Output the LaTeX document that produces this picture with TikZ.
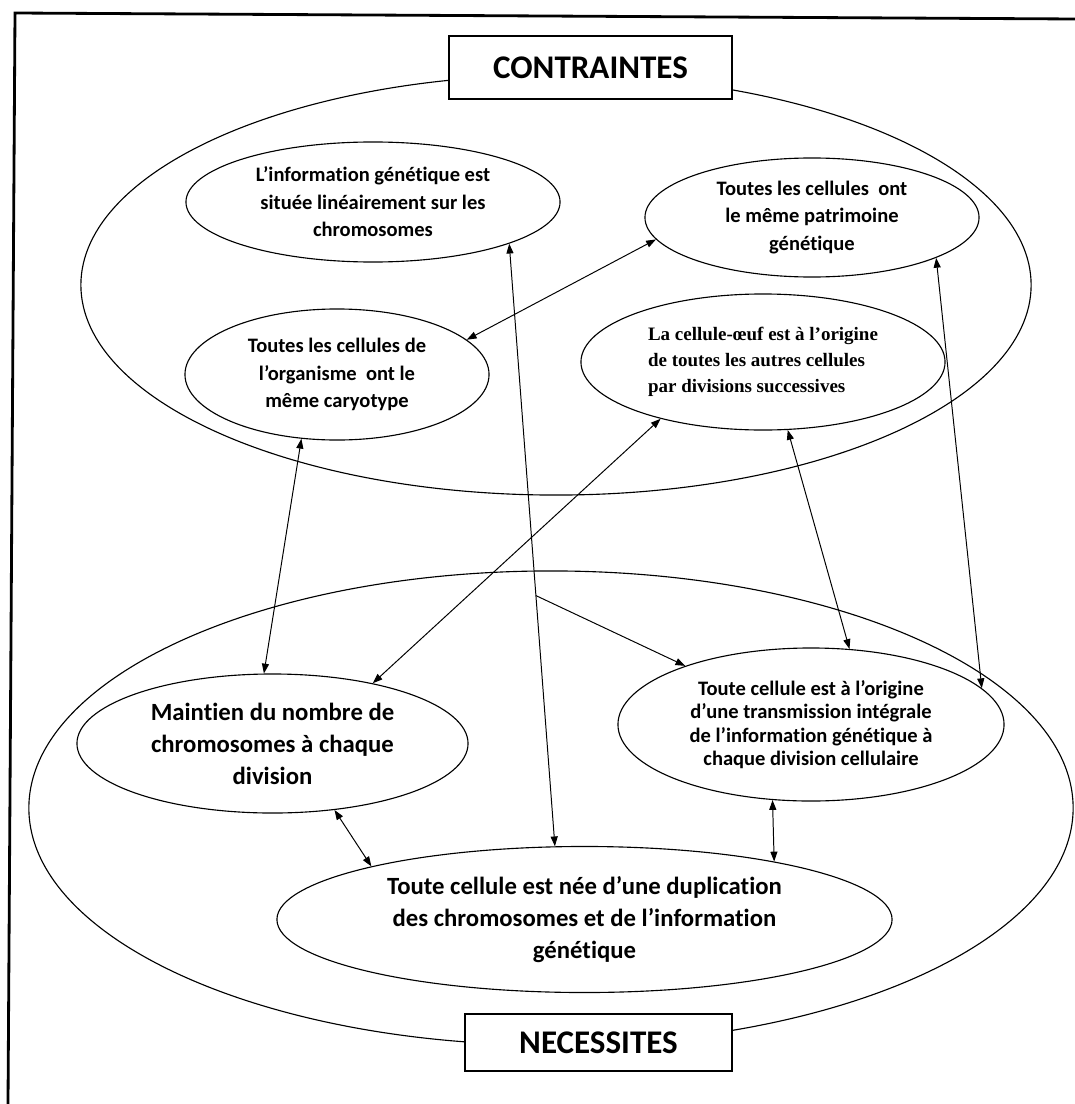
\documentclass[tikz,border=0pt]{standalone}
\usepackage{fontspec}
\setmainfont{Carlito}[Ligatures=NoCommon]
\newfontfamily\oldserif{Liberation Serif}
\usetikzlibrary{shapes.geometric,arrows.meta,calc}

\begin{document}
\begin{tikzpicture}[x=0.025cm,y=-0.025cm,
  zone/.style={draw,ellipse,line width=0.8pt,inner sep=0pt},
  bubble/.style={draw,ellipse,line width=0.8pt,inner sep=0pt,align=center},
  headbox/.style={draw,fill=white,line width=0.8pt,inner sep=0pt,font=\bfseries\fontsize{23.5}{27}\selectfont},
  small/.style={font=\bfseries\fontsize{14.6}{19.5}\selectfont},
  large/.style={font=\bfseries\fontsize{17.6}{22.8}\selectfont},
  link/.style={line width=0.7pt,{Triangle[length=7pt,width=5pt]}-{Triangle[length=7pt,width=5pt]}},
  oneway/.style={line width=0.7pt,-{Triangle[length=7pt,width=5pt]}}]
  \useasboundingbox (0,0) rectangle (1075,1104);
  \draw[line width=2pt] (1075,19) -- (15,13) -- (8,1104);

  \node[zone,minimum width=23.75cm,minimum height=10.5cm] (ContrZone) at (556,285) {};
  \node[zone,minimum width=26.1cm,minimum height=11.85cm] (NecZone) at (551,808) {};
  \node[headbox,minimum width=7.075cm,minimum height=1.575cm] (Contraintes) at (590.5,67.5) {CONTRAINTES};
  \node[headbox,minimum width=6.675cm,minimum height=1.425cm] (Necessites) at (598.5,1042.5) {NECESSITES};

  \node[bubble,small,minimum width=9.35cm,minimum height=3cm] (InfoLin) at (373,202)
    {L’information génétique est\\située linéairement sur les\\chromosomes};
  \node[bubble,small,minimum width=7.6cm,minimum height=3.275cm] (Caryo) at (337,374.5)
    {Toutes les cellules de\\l’organisme\ \ ont le\\même caryotype};
  \node[bubble,small,minimum width=8.35cm,minimum height=2.975cm] (Patrim) at (812,217.5)
    {Toutes les cellules\ \ ont\\le même patrimoine\\génétique};
  \node[bubble,align=left,font=\oldserif\bfseries\fontsize{13.5}{18.5}\selectfont,
    minimum width=9.1cm,minimum height=3.4cm] (Oeuf) at (763,362)
    {La cellule-œuf est à l’origine\\de toutes les autres cellules\\par divisions successives};
  \node[bubble,large,minimum width=9.775cm,minimum height=3.475cm] (Maintien) at (272.5,743.5)
    {Maintien du nombre de\\chromosomes à chaque\\division};
  \node[bubble,font=\bfseries\fontsize{14.6}{16.6}\selectfont,minimum width=9.65cm,minimum height=3.825cm] (Transm) at (811,724.5)
    {Toute cellule est à l’origine\\d’une transmission intégrale\\de l’information génétique à\\chaque division cellulaire};
  \node[bubble,large,minimum width=15.375cm,minimum height=3.65cm] (Dupli) at (584.5,919.5)
    {Toute cellule est née d’une duplication\\des chromosomes et de l’information\\génétique};

  \draw[link] (Caryo.-119.4) -- (Maintien.97.7);
  \draw[link] (InfoLin.-17.9) -- (Dupli.112.5);
  \draw[link] (Caryo.15.7) -- (Patrim.188.6);
  \draw[link] (Oeuf.209.9) -- (Maintien.31.3);
  \draw[link] (Oeuf.-70) -- (Transm.63);
  \draw[link] (Patrim.-18.5) -- (Transm.12.9);
  \draw[link] (Maintien.-47.6) -- (Dupli.166.4);
  \draw[link] (Transm.-117.6) -- (Dupli.17.4);
  \coordinate (Split) at ($(InfoLin.-17.9)!0.584!(Dupli.112.5)$);
  \draw[oneway] (Split) -- (Transm.155.3);
\end{tikzpicture}
\end{document}
